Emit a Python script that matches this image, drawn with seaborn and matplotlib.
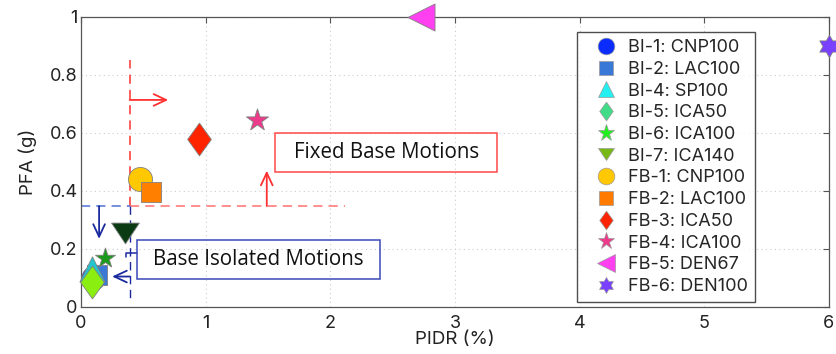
import numpy as np
import matplotlib
matplotlib.use("Agg")
import matplotlib.pyplot as plt
from matplotlib.lines import Line2D
from matplotlib.patches import Rectangle
import seaborn as sns

# ---- data -------------------------------------------------------------
labels = ["BI-1: CNP100", "BI-2: LAC100", "BI-4: SP100", "BI-5: ICA50",
          "BI-6: ICA100", "BI-7: ICA140", "FB-1: CNP100", "FB-2: LAC100",
          "FB-3: ICA50", "FB-4: ICA100", "FB-5: DEN67", "FB-6: DEN100"]
pidr = [0.10, 0.13, 0.09, 0.09, 0.19, 0.35, 0.47, 0.56, 0.95, 1.41, 2.73, 6.00]
pfa = [0.10, 0.11, 0.13, 0.085, 0.17, 0.255, 0.44, 0.395, 0.58, 0.645, 1.00, 0.90]

x_ticks = [0, 1, 2, 3, 4, 5, 6]
y_ticks = [0, 0.2, 0.4, 0.6, 0.8, 1.0]
y_tick_labels = ["0", "0.2", "0.4", "0.6", "0.8", "1"]

# ---- marker shapes ----------------------------------------------------
diamond = [(0, 1), (0.72, 0), (0, -1), (-0.72, 0), (0, 1)]
tri_down = [(-1, 0.75), (1, 0.75), (0, -0.75), (-1, 0.75)]
ang_out = np.deg2rad(90 + 60 * np.arange(6))
ang_in = ang_out + np.deg2rad(30)
r_in = 1 / np.sqrt(3)
hexagram = []
for a, b in zip(ang_out, ang_in):
    hexagram.append((np.cos(a), np.sin(a)))
    hexagram.append((r_in * np.cos(b), r_in * np.sin(b)))
hexagram.append(hexagram[0])

shapes = ["o", "s", "^", diamond, "*", tri_down, "o", "s", diamond, "*", "<", hexagram]
plot_colors = ["#1030ff", "#3a78d8", "#22c4cf", "#8aee10", "#1c9a1c", "#0b3b12",
               "#ffc800", "#ff7f00", "#ff2400", "#ee3a8a", "#ff40f0", "#7a40ff"]
legend_colors = ["#0a2cff", "#3a78d8", "#22f0f0", "#40dc88", "#20f020", "#78b814",
                 "#ffc800", "#ff7a00", "#ff2400", "#ee3a8a", "#ff40f0", "#7a40ff"]
sizes = [290, 190, 330, 560, 230, 400, 300, 190, 560, 280, 380, 260]
legend_ms = [12, 9.5, 11.5, 13.5, 12.5, 11.5, 12, 9.5, 13.5, 12.5, 12.5, 11.5]

# ---- figure -----------------------------------------------------------
sns.set_theme(style="white")
plt.rcParams["font.family"] = ["Inter", "DejaVu Sans"]

fig = plt.figure(figsize=(8.37, 3.54), dpi=100)
ax = fig.add_axes([0.0968, 0.1328, 0.8936, 0.8192])

ax.set_xlim(0, 6)
ax.set_ylim(0, 1)
ax.set_xticks(x_ticks)
ax.set_xticklabels([str(t) for t in x_ticks])
ax.set_yticks(y_ticks)
ax.set_yticklabels(y_tick_labels)
ax.grid(True, linestyle=(0, (1, 3)), color="#cccccc", linewidth=0.8)
ax.tick_params(direction="in", top=True, right=True, length=4, width=0.8,
               color="#555555", labelsize=13, labelcolor="#222222")
ax.tick_params(axis="x", pad=6)
ax.tick_params(axis="y", pad=2.5)
for sp in ax.spines.values():
    sp.set_color("#555555")
    sp.set_linewidth(0.9)
ax.set_xlabel("PIDR (%)", fontsize=13.5, color="#222222", labelpad=-1)
ax.set_ylabel("PFA (g)", fontsize=13.5, color="#222222", labelpad=9)

# ---- region guides ----------------------------------------------------
red = "#ff3030"
red_light = "#ff7070"
blue = "#1a2a9e"
blue_light = "#5070d8"
head = "->,head_length=0.75,head_width=0.35"

ax.plot([0.39, 0.39], [0.348, 0.85], color=red, lw=1.1, ls=(0, (6, 4)), zorder=2)
ax.plot([0.39, 2.12], [0.348, 0.348], color=red_light, lw=1.1, ls=(0, (6, 4)), zorder=2)
ax.annotate("", xy=(0.70, 0.714), xytext=(0.39, 0.714),
            arrowprops=dict(arrowstyle=head, color=red, lw=1.3,
                            shrinkA=0, shrinkB=0), zorder=2)
ax.annotate("", xy=(1.49, 0.47), xytext=(1.49, 0.348),
            arrowprops=dict(arrowstyle=head, color=red, lw=1.3,
                            shrinkA=0, shrinkB=0), zorder=2)

ax.plot([0.0, 0.39], [0.348, 0.348], color=blue_light, lw=1.1, ls=(0, (6, 4)), zorder=2)
ax.plot([0.39, 0.39], [0.348, 0.02], color=blue, lw=1.0, ls=(0, (6, 4)), zorder=2)
ax.annotate("", xy=(0.145, 0.235), xytext=(0.145, 0.348),
            arrowprops=dict(arrowstyle=head, color=blue, lw=1.3,
                            shrinkA=0, shrinkB=0), zorder=2)
ax.annotate("", xy=(0.25, 0.105), xytext=(0.39, 0.105),
            arrowprops=dict(arrowstyle=head, color=blue, lw=1.3,
                            shrinkA=0, shrinkB=0), zorder=2)
ax.plot([0.36, 0.36, 0.45], [0.172, 0.186, 0.186], color=blue, lw=1.1, zorder=2)

box_font = ["Open Sans", "DejaVu Sans"]
ax.add_patch(Rectangle((1.56, 0.466), 1.78, 0.134, fill=False,
                       edgecolor="#ff4848", lw=1.1, zorder=2))
ax.text(2.45, 0.533, "Fixed Base Motions", ha="center", va="center",
        fontsize=14.8, family=box_font, color="#111111")
ax.add_patch(Rectangle((0.45, 0.097), 1.95, 0.133, fill=False,
                       edgecolor="#3a48b8", lw=1.1, zorder=2))
ax.text(1.425, 0.163, "Base Isolated Motions", ha="center", va="center",
        fontsize=14.8, family=box_font, color="#111111")

# ---- response points ----------------------------------------------------
for xi, yi, m, c, s in zip(pidr, pfa, shapes, plot_colors, sizes):
    sns.scatterplot(x=[xi], y=[yi], marker=m, s=s, color=c, edgecolor="#808080",
                    linewidth=0.6, ax=ax, legend=False, zorder=3, clip_on=False)

handles = [Line2D([], [], ls="none", marker=m, markersize=ms, markerfacecolor=c,
                  markeredgecolor="#9a9a9a", markeredgewidth=0.5)
           for m, c, ms in zip(shapes, legend_colors, legend_ms)]
leg = ax.legend(handles, labels, loc="upper left", bbox_to_anchor=(0.663, 0.948),
                borderaxespad=0, frameon=True, fancybox=False, fontsize=13,
                labelspacing=0.26, handlelength=2.4, handletextpad=0.05,
                borderpad=0.4)
leg.get_frame().set_edgecolor("#222222")
leg.get_frame().set_linewidth(1.0)
leg.set_zorder(5)

fig.savefig("out.png", dpi=100)
